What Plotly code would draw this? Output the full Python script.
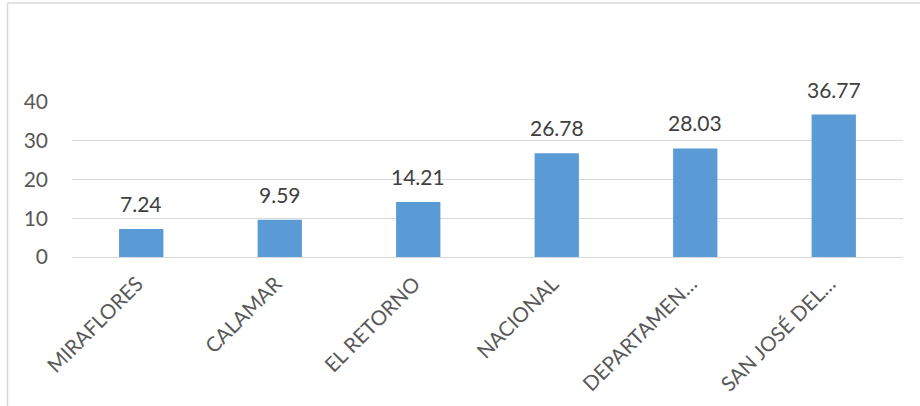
import plotly.graph_objects as go

categories = ["MIRAFLORES", "CALAMAR", "EL RETORNO", "NACIONAL", "DEPARTAMEN…", "SAN JOSÉ DEL…"]
values = [7.24, 9.59, 14.21, 26.78, 28.03, 36.77]
y_ticks = [0, 10, 20, 30, 40]

W, H = 920, 406
ml, mr, mt, mb = 72, 17, 102, 149
pw = W - ml - mr
ph = H - mt - mb

fig = go.Figure()
fig.add_trace(go.Bar(
    x=categories, y=values,
    marker=dict(color="#5b9bd5", line=dict(width=0)),
    hoverinfo="x+y",
))

for c, v in zip(categories, values):
    fig.add_annotation(
        x=c, y=v, text=f"{v:.2f}", showarrow=False,
        yanchor="bottom", yshift=11,
        font=dict(family="Lato", size=21, color="#404040"),
    )

def px_x(p):
    return (p - ml) / pw

def px_y(p):
    return 1 - (p - mt) / ph

fig.update_layout(
    width=W, height=H,
    margin=dict(l=ml, r=mr, t=mt, b=mb, autoexpand=False),
    paper_bgcolor="white", plot_bgcolor="white",
    bargap=0.68,
    showlegend=False,
    font=dict(family="Lato", size=21, color="#595959"),
    xaxis=dict(
        tickangle=-45, showgrid=False, zeroline=False, showline=False,
        ticks="", ticklabelstandoff=10, ticklabelshift=-4, automargin=False,
        tickfont=dict(family="Lato", size=20.5, color="#595959"),
    ),
    yaxis=dict(
        range=[0, 40], tickvals=y_ticks, showgrid=True, gridcolor="#d9d9d9",
        gridwidth=1.3, zeroline=True, zerolinecolor="#d9d9d9", zerolinewidth=1.3,
        showline=False, ticks="", ticklabelstandoff=23, automargin=False,
        tickfont=dict(family="Lato", size=21, color="#595959"),
    ),
    shapes=[
        dict(type="line", xref="paper", yref="paper", x0=px_x(7.5), x1=px_x(920),
             y0=px_y(3), y1=px_y(3), line=dict(color="#d9d9d9", width=1.5)),
        dict(type="line", xref="paper", yref="paper", x0=px_x(7.5), x1=px_x(7.5),
             y0=px_y(3), y1=px_y(406), line=dict(color="#d9d9d9", width=1.5)),
    ],
)

fig.write_html(
    "out.html",
    config={"displayModeBar": False},
    post_script="document.body.style.margin='0';document.body.style.overflow='hidden';",
)
